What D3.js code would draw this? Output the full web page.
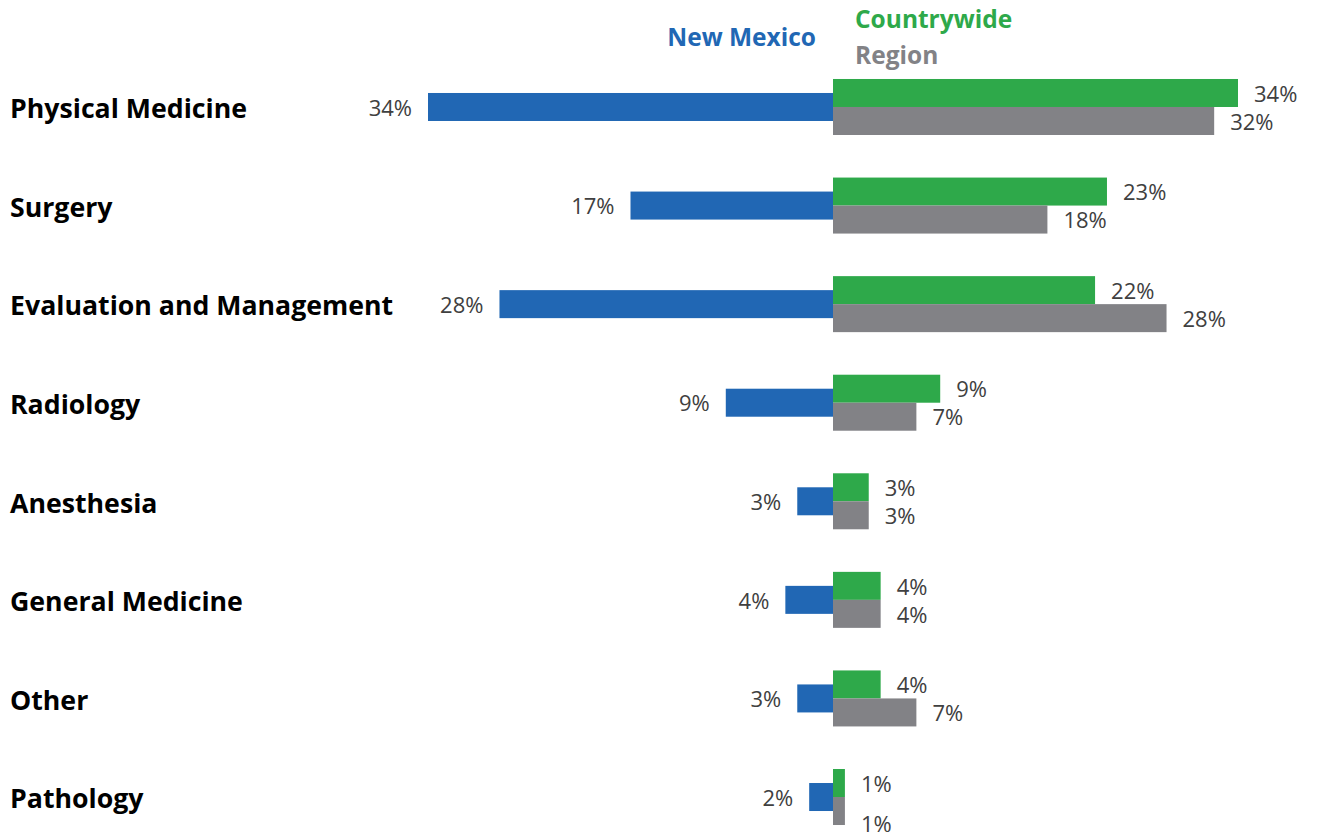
<!DOCTYPE html>
<html>
<head>
<meta charset="utf-8">
<script src="https://cdn.jsdelivr.net/npm/d3@7"></script>
<style>
  body { margin: 0; background: #fff; }
  svg { display: block; font-family: "Open Sans", sans-serif; }
</style>
</head>
<body>
<svg width="1318" height="837"></svg>
<script>
// data
var categories = ["Physical Medicine", "Surgery", "Evaluation and Management", "Radiology",
  "Anesthesia", "General Medicine", "Other", "Pathology"];
var newMexico   = [34, 17, 28, 9, 3, 4, 3, 2];
var countrywide = [34, 23, 22, 9, 3, 4, 4, 1];
var region      = [32, 18, 28, 7, 3, 4, 7, 1];

var svg = d3.select("svg");
var mid = 833;      // shared zero line
var barH = 28;

var x = d3.scaleLinear().domain([0, 34]).range([0, 405]);
var y = d3.scaleBand().domain(categories).range([57.7, 846.3]);
var cy = function(c) { return y(c) + y.bandwidth() / 2; };

var rows = categories.map(function(c, i) {
  return { cat: c, nm: newMexico[i], cw: countrywide[i], rg: region[i] };
});

// category labels
svg.selectAll("text.cat")
  .data(rows)
  .enter().append("text")
  .attr("class", "cat")
  .attr("x", 10)
  .attr("y", function(d) { return cy(d.cat) + 2; })
  .attr("dy", "0.35em")
  .attr("font-size", 26.7)
  .attr("font-weight", "bold")
  .attr("fill", "#000")
  .text(function(d) { return d.cat; });

// New Mexico bars (left)
svg.selectAll("rect.nm")
  .data(rows)
  .enter().append("rect")
  .attr("class", "nm")
  .attr("x", function(d) { return mid - x(d.nm); })
  .attr("y", function(d) { return cy(d.cat) - barH / 2; })
  .attr("width", function(d) { return x(d.nm); })
  .attr("height", barH)
  .attr("fill", "#2167b4");

// Countrywide bars (right, upper)
svg.selectAll("rect.cw")
  .data(rows)
  .enter().append("rect")
  .attr("class", "cw")
  .attr("x", mid)
  .attr("y", function(d) { return cy(d.cat) - barH; })
  .attr("width", function(d) { return x(d.cw); })
  .attr("height", barH)
  .attr("fill", "#2ea94a");

// Region bars (right, lower)
svg.selectAll("rect.rg")
  .data(rows)
  .enter().append("rect")
  .attr("class", "rg")
  .attr("x", mid)
  .attr("y", function(d) { return cy(d.cat); })
  .attr("width", function(d) { return x(d.rg); })
  .attr("height", barH)
  .attr("fill", "#828286");

// value labels
function addLabels(cls, fx, fy, anchor, fv) {
  svg.selectAll("text." + cls)
    .data(rows)
    .enter().append("text")
    .attr("class", cls)
    .attr("x", fx)
    .attr("y", fy)
    .attr("dy", "0.35em")
    .attr("text-anchor", anchor)
    .attr("font-size", 22)
    .attr("fill", "#404040")
    .text(function(d) { return fv(d) + "%"; });
}
addLabels("lnm", function(d) { return mid - x(d.nm) - 16; }, function(d) { return cy(d.cat) + 1; }, "end", function(d) { return d.nm; });
addLabels("lcw", function(d) { return mid + x(d.cw) + 16; }, function(d) { return cy(d.cat) - barH / 2 + 1; }, "start", function(d) { return d.cw; });
// tiny last pair: region label sits a bit lower, as in the original
addLabels("lrg", function(d) { return mid + x(d.rg) + 16; },
  function(d) { return cy(d.cat) + barH / 2 + 1 + (d.cat === "Pathology" ? 12 : 0); }, "start", function(d) { return d.rg; });

// legend
svg.append("text").attr("x", 816).attr("y", 37).attr("dy", "0.35em")
  .attr("text-anchor", "end").attr("font-size", 24.5).attr("font-weight", "bold")
  .attr("fill", "#2167b4").text("New Mexico");
svg.append("text").attr("x", 855).attr("y", 19).attr("dy", "0.35em")
  .attr("font-size", 24.5).attr("font-weight", "bold")
  .attr("fill", "#2ea94a").text("Countrywide");
svg.append("text").attr("x", 855).attr("y", 55).attr("dy", "0.35em")
  .attr("font-size", 24.5).attr("font-weight", "bold")
  .attr("fill", "#828286").text("Region");
</script>
</body>
</html>
